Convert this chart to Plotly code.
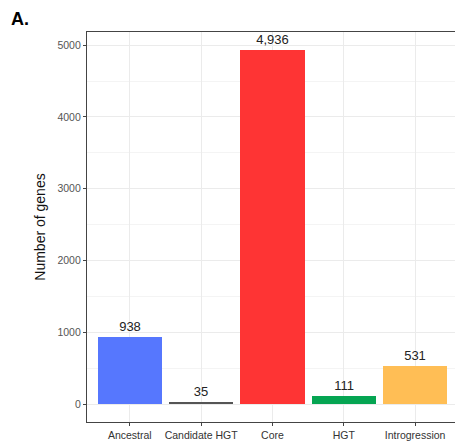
import plotly.graph_objects as go

categories = ["Ancestral", "Candidate HGT", "Core", "HGT", "Introgression"]
gene_counts = [938, 35, 4936, 111, 531]
bar_colors = ["#5677FE", "#555555", "#FE3434", "#05A552", "#FFBE55"]
y_ticks = [0, 1000, 2000, 3000, 4000, 5000]

fig = go.Figure()
fig.add_trace(go.Bar(
    x=list(range(len(categories))),
    y=gene_counts,
    marker=dict(color=bar_colors, line=dict(width=0)),
    width=0.9,
    text=[f"{v:,}" for v in gene_counts],
    textposition="outside",
    cliponaxis=False,
    textfont=dict(family="Liberation Sans, Arial", size=13, color="#222222"),
))

fig.update_layout(
    width=455, height=445,
    margin=dict(l=87, r=0, t=32, b=23),
    plot_bgcolor="white", paper_bgcolor="white",
    showlegend=False,
    bargap=0,
    font=dict(family="Liberation Sans, Arial"),
    xaxis=dict(
        tickmode="array", tickvals=list(range(len(categories))), ticktext=categories,
        range=[-0.6, 4.56],
        showgrid=True, gridcolor="#ebebeb", gridwidth=1,
        showline=True, linecolor="#444444", linewidth=1.2, mirror=True,
        ticks="outside", ticklen=3, tickcolor="#444444",
        tickfont=dict(size=10.5, color="#333333"),
        zeroline=False, fixedrange=True,
    ),
    yaxis=dict(
        range=[-247, 5183],
        tickmode="array", tickvals=y_ticks,
        showgrid=True, gridcolor="#ebebeb", gridwidth=1,
        minor=dict(dtick=500, tick0=0, showgrid=True, gridcolor="#f4f4f4", gridwidth=0.8),
        showline=True, linecolor="#444444", linewidth=1.2,
        ticks="outside", ticklen=3, tickcolor="#444444",
        tickfont=dict(size=10.5, color="#555555"),
        title=dict(text="Number of genes", font=dict(size=14, color="#111111"), standoff=8),
        zeroline=False, fixedrange=True,
    ),
    annotations=[dict(
        text="<b>A.</b>", x=0.0, y=1.0, xref="paper", yref="paper",
        xanchor="left", yanchor="top", showarrow=False,
        font=dict(size=18, color="#000000"),
        xshift=-78, yshift=25,
    )],
)

fig.write_html(
    "out.html",
    config={"displayModeBar": False},
    post_script="document.body.style.margin='0';document.body.style.overflow='hidden';",
)
